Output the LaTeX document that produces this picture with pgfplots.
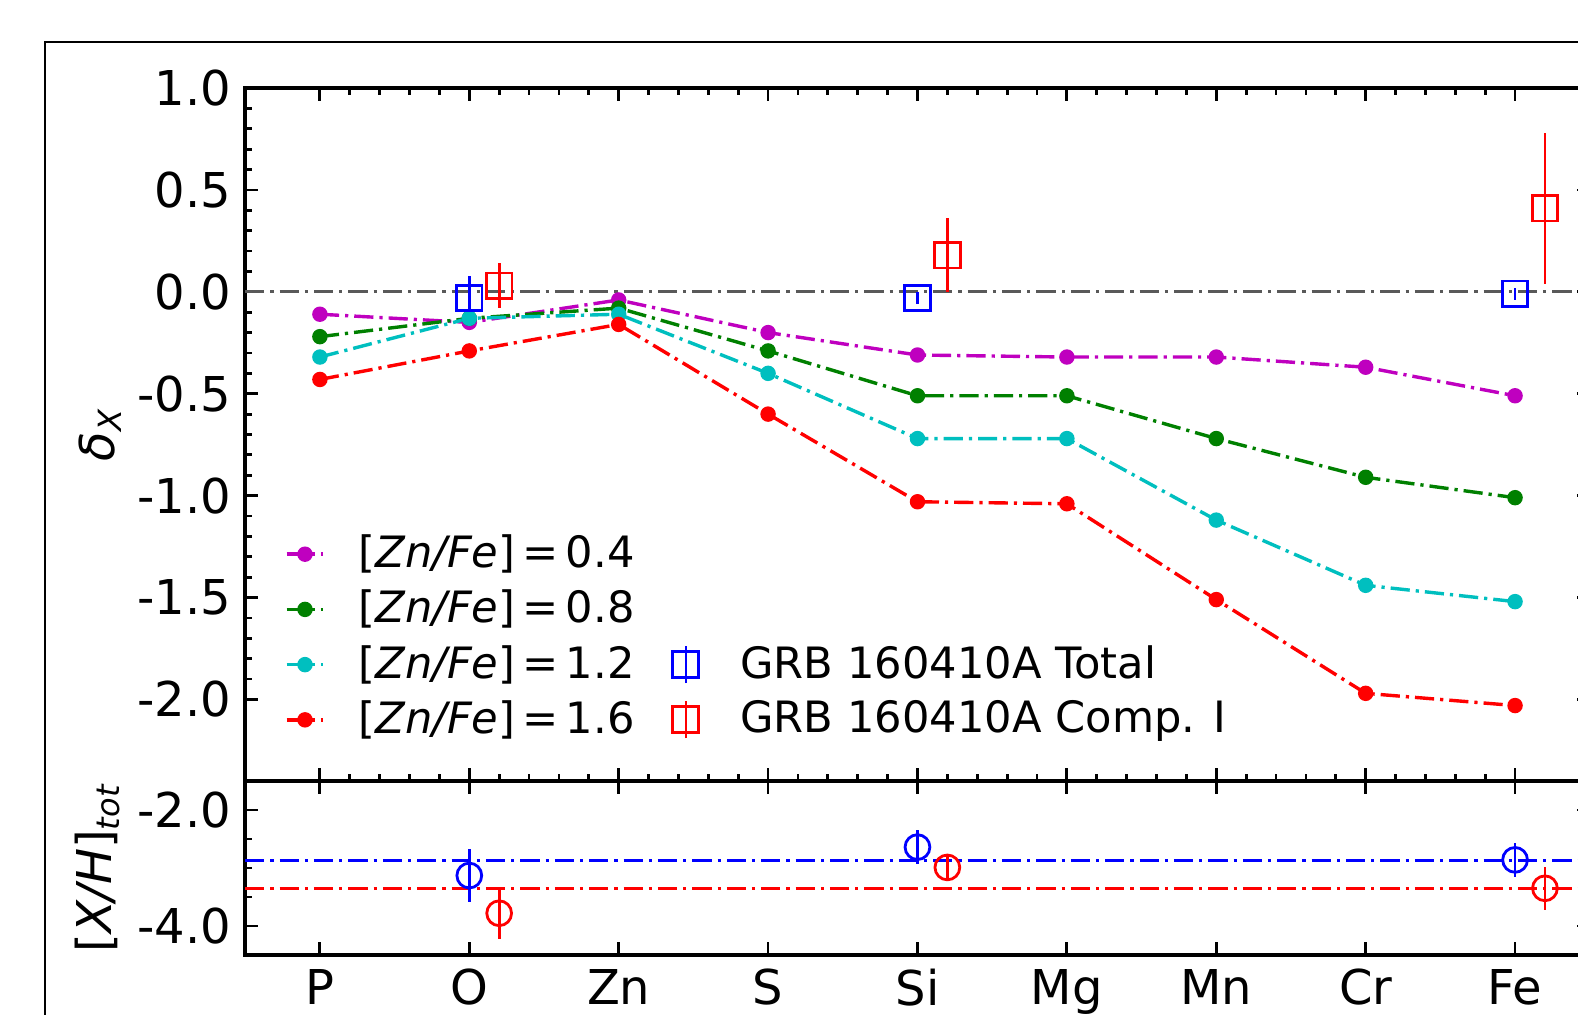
\documentclass[border=0pt]{standalone}
\usepackage{fontspec}
\setmainfont{DejaVu Sans}
\usepackage{pgfplots}
\pgfplotsset{compat=1.18}

\definecolor{mplm}{rgb}{0.75,0,0.75}
\definecolor{mplg}{rgb}{0,0.5,0}
\definecolor{mplc}{rgb}{0,0.75,0.75}
\definecolor{mplr}{rgb}{1,0,0}
\definecolor{mplb}{rgb}{0,0,1}

\tikzset{mpldashdot/.style={dash pattern=on 4.8pt off 1.5pt on 0.8pt off 1.5pt}}

\pgfplotsset{
  panel/.style={
    scale only axis, width=336.15pt,
    xmin=-0.5, xmax=8.5,
    xtick={0,1,2,3,4,5,6,7,8},
    axis line style={line width=1pt},
    tick style={black, line width=0.7pt},
    major tick length=3.3pt, minor tick length=1.8pt,
    tick label style={font=\fontsize{12}{14}\selectfont},
    label style={font=\fontsize{12}{14}\selectfont},
  },
  zmodel/.style={#1, line width=0.85pt, mpldashdot, mark=*, mark size=1.5pt, mark options={solid}},
  grbpt/.style={#1, only marks, line width=0.7pt, mark options={solid, line width=0.7pt},
    error bars/.cd, y dir=both, y explicit, error mark=none,
    error bar style={line width=0.7pt, #1}},
  zleg/.style={legend image code/.code={
    \draw[mark repeat=2, mark phase=2] plot coordinates {(0pt,0pt) (4.6pt,0pt) (9.2pt,0pt)};}},
  gleg/.style={legend image code/.code={
    \draw[#1, line width=0.6pt] (3.25pt,-4.6pt) -- (3.25pt,4.6pt);
    \draw[#1, line width=0.7pt] (0pt,-3.25pt) rectangle (6.5pt,3.25pt);
    \path (8.3pt,0pt);}},
}

\begin{document}
\begin{tikzpicture}
\useasboundingbox (0pt,0pt) rectangle (394.5pt,-253.75pt);
\clip (0pt,0pt) rectangle (394.5pt,-253.75pt);
\draw[line width=0.55pt] (11.3pt,-10.6pt) rectangle (430pt,-280pt);

% upper panel: depletion delta_X
\begin{axis}[panel,
  at={(61.3pt,-22pt)}, anchor=north west, height=173.25pt,
  ymin=-2.4, ymax=1.0,
  ytick={-2,-1.5,-1,-0.5,0,0.5,1},
  yticklabels={-2.0,-1.5,-1.0,-0.5,0.0,0.5,1.0},
  minor x tick num=4, minor y tick num=4,
  xticklabels={},
  ylabel={{\itshape δ}\textsubscript{\itshape X}},
  ylabel style={at={(axis description cs:-0.1077,0.5)}, anchor=center},
  legend columns=2,
  legend style={draw=none, fill=none, at={(axis description cs:0.02,0.383)}, anchor=north west,
    font=\fontsize{10.8}{13}\selectfont, row sep=-1.1pt,
    nodes={inner sep=2.6pt},
    /tikz/every odd column/.append style={column sep=5.8pt},
    /tikz/every even column/.append style={column sep=6.6pt}},
  legend cell align=left,
]
\addplot[black!65, line width=0.8pt, mpldashdot, forget plot] coordinates {(-0.5,0) (8.5,0)};

\addplot[zmodel=mplm, forget plot] coordinates {(0,-0.11) (1,-0.15) (2,-0.04) (3,-0.20) (4,-0.31) (5,-0.32) (6,-0.32) (7,-0.37) (8,-0.51)};
\addplot[zmodel=mplg, forget plot] coordinates {(0,-0.22) (1,-0.13) (2,-0.08) (3,-0.29) (4,-0.51) (5,-0.51) (6,-0.72) (7,-0.91) (8,-1.01)};
\addplot[zmodel=mplc, forget plot] coordinates {(0,-0.32) (1,-0.13) (2,-0.11) (3,-0.40) (4,-0.72) (5,-0.72) (6,-1.12) (7,-1.44) (8,-1.52)};
\addplot[zmodel=mplr, forget plot] coordinates {(0,-0.43) (1,-0.29) (2,-0.16) (3,-0.60) (4,-1.03) (5,-1.04) (6,-1.51) (7,-1.97) (8,-2.03)};

\addplot[mark=square, mark size=3.2pt, forget plot, grbpt=mplb] coordinates {
  (1,-0.03) +- (0,0.11) (4,-0.03) +- (0,0.03) (8,-0.01) +- (0,0.03)};
\addplot[mark=square, mark size=3.2pt, forget plot, grbpt=mplr] coordinates {
  (1.2,0.03) +- (0,0.11) (4.2,0.18) +- (0,0.18) (8.2,0.41) +- (0,0.37)};

% legend, filled row by row
\addlegendimage{zmodel=mplm, zleg}
\addlegendentry{[\textit{Zn/Fe}]\,=\,0.4}
\addlegendimage{empty legend}
\addlegendentry{}
\addlegendimage{zmodel=mplg, zleg}
\addlegendentry{[\textit{Zn/Fe}]\,=\,0.8}
\addlegendimage{empty legend}
\addlegendentry{}
\addlegendimage{zmodel=mplc, zleg}
\addlegendentry{[\textit{Zn/Fe}]\,=\,1.2}
\addlegendimage{gleg=mplb}
\addlegendentry{GRB 160410A Total}
\addlegendimage{zmodel=mplr, zleg}
\addlegendentry{[\textit{Zn/Fe}]\,=\,1.6}
\addlegendimage{gleg=mplr}
\addlegendentry{GRB 160410A Comp. I}
\end{axis}

% lower panel: total metallicity
\begin{axis}[panel,
  at={(61.3pt,-195.25pt)}, anchor=north west, height=43.5pt,
  ymin=-4.5, ymax=-1.5,
  ytick={-4,-2}, yticklabels={-4.0,-2.0},
  minor ytick={-3.5,-3,-2.5},
  xticklabels={P,O,Zn,S,Si,Mg,Mn,Cr,Fe},
  ylabel={[\textit{X/H}]\textsubscript{\itshape tot}},
  ylabel style={at={(axis description cs:-0.1098,0.5)}, anchor=center},
]
\addplot[mplb, line width=0.85pt, mpldashdot] coordinates {(-0.5,-2.87) (8.5,-2.87)};
\addplot[mplr, line width=0.85pt, mpldashdot] coordinates {(-0.5,-3.35) (8.5,-3.35)};
\addplot[mark=o, mark size=3.1pt, grbpt=mplb] coordinates {
  (1,-3.13) +- (0,0.46) (4,-2.64) +- (0,0.29) (8,-2.86) +- (0,0.29)};
\addplot[mark=o, mark size=3.1pt, grbpt=mplr] coordinates {
  (1.2,-3.78) +- (0,0.44) (4.2,-2.99) +- (0,0.23) (8.2,-3.35) +- (0,0.37)};
\end{axis}
\end{tikzpicture}
\end{document}
